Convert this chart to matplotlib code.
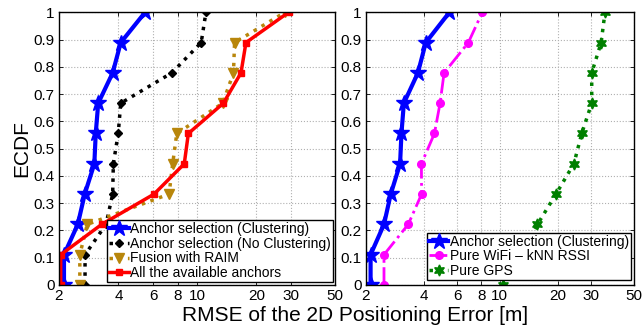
import numpy as np
import matplotlib
matplotlib.use("Agg")
import matplotlib.pyplot as plt
from matplotlib.ticker import FixedLocator, FixedFormatter, NullLocator

plt.rcParams.update({"font.family": ["Liberation Sans", "DejaVu Sans"],
                     "font.size": 11})

# ECDF levels (10 test points)
ecdf = [0, 1/9, 2/9, 3/9, 4/9, 5/9, 6/9, 7/9, 8/9, 1]

# RMSE values [m]
clustering    = [2.12, 2.12, 2.49, 2.70, 3.02, 3.07, 3.16, 3.74, 4.11, 5.46]
no_clustering = [2.71, 2.71, 3.46, 3.74, 3.77, 3.99, 4.11, 7.45, 10.5, 11.1]
raim          = [2.55, 2.55, 2.78, 7.22, 7.53, 7.90, 13.5, 15.3, 15.5, 27.9]
all_anchors   = [2.04, 2.04, 3.29, 6.06, 8.62, 9.04, 13.6, 16.7, 17.7, 29.1]
wifi_knn      = [2.49, 2.49, 3.33, 3.91, 3.90, 4.56, 4.88, 5.12, 6.85, 8.10]
pure_gps      = [10.4, 13.0, 15.7, 19.6, 24.3, 26.7, 30.1, 30.1, 33.7, 35.3]

xticks = [2, 4, 6, 8, 10, 20, 30, 50]
yticks = [0, 0.1, 0.2, 0.3, 0.4, 0.5, 0.6, 0.7, 0.8, 0.9, 1.0]
ylabels = ["0", "0.1", "0.2", "0.3", "0.4", "0.5", "0.6", "0.7", "0.8", "0.9", "1"]

GOLD = "#b8860b"


def style_axes(ax):
    ax.set_xscale("log")
    ax.set_xlim(2, 50)
    ax.set_ylim(0, 1)
    ax.xaxis.set_major_locator(FixedLocator(xticks))
    ax.xaxis.set_major_formatter(FixedFormatter([str(t) for t in xticks]))
    ax.xaxis.set_minor_locator(NullLocator())
    ax.set_yticks(yticks)
    ax.set_yticklabels(ylabels)
    ax.tick_params(direction="in", top=True, right=True, labelsize=11,
                   length=3, width=0.6)
    ax.tick_params(axis="x", pad=3)
    ax.tick_params(axis="y", pad=3)
    ax.grid(True, linestyle=":", color="#b0b0b0", linewidth=0.8)
    for s in ax.spines.values():
        s.set_linewidth(1.0)


def leg(ax, anchor):
    lg = ax.legend(loc="lower right", bbox_to_anchor=anchor, borderaxespad=0,
                   fontsize=10, numpoints=1, handlelength=1.4,
                   handletextpad=0.1, labelspacing=0.05, borderpad=0.15,
                   fancybox=False, framealpha=1, edgecolor="black")
    lg.get_frame().set_linewidth(1.0)


fig = plt.figure(figsize=(6.44, 3.28), dpi=100)
ax1 = fig.add_axes([0.0916, 0.1311, 0.4286, 0.8314])
ax2 = fig.add_axes([0.5679, 0.1311, 0.4166, 0.8314])

ax1.plot(clustering, ecdf, "-", color="blue", lw=3, marker="*", ms=12,
         label="Anchor selection (Clustering)")
ax1.plot(no_clustering, ecdf, ":", color="black", lw=2.5, marker="D", ms=4,
         label="Anchor selection (No Clustering)")
ax1.plot(raim, ecdf, ":", color=GOLD, lw=2.5, marker="v", ms=7,
         label="Fusion with RAIM")
ax1.plot(all_anchors, ecdf, "-", color="red", lw=2.5, marker="s", ms=5,
         label="All the available anchors")
style_axes(ax1)
ax1.set_ylabel("ECDF", fontsize=15, labelpad=2)
leg(ax1, (0.993, 0.01))

ax2.plot(clustering, ecdf, "-", color="blue", lw=3, marker="*", ms=12,
         label="Anchor selection (Clustering)")
ax2.plot(wifi_knn, ecdf, "-.", color="magenta", lw=2, marker="o", ms=5.5,
         label="Pure WiFi \u2013 kNN RSSI")
ax2.plot(pure_gps, ecdf, ":", color="green", lw=2.5, marker=(6, 1, 0), ms=8,
         label="Pure GPS")
style_axes(ax2)
leg(ax2, (0.989, 0.018))

fig.text(0.551, 0.022, "RMSE of the 2D Positioning Error [m]", fontsize=15,
         ha="center", va="baseline")

fig.savefig("out.png", dpi=100)
